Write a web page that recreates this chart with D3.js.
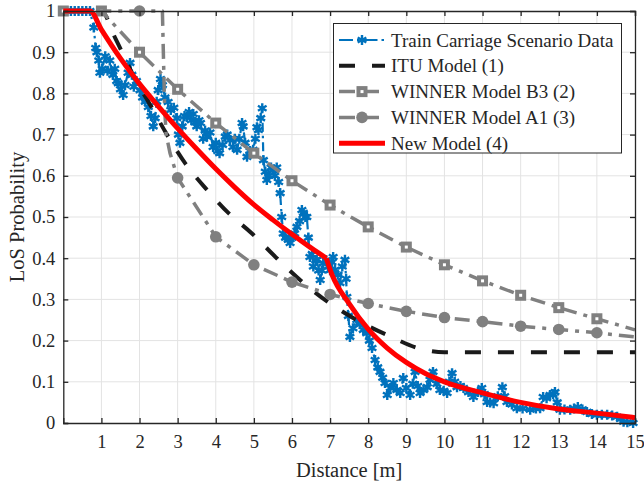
<!DOCTYPE html>
<html>
<head>
<meta charset="utf-8">
<script src="https://cdn.jsdelivr.net/npm/d3@7"></script>
<style>
  body { margin: 0; background: #fff; }
  svg text { font-family: "Liberation Serif", "Times New Roman", serif; fill: #262626; }
</style>
</head>
<body>
<div id="chart"></div>
<script>
// measured data: train carriage scenario
const measDist = [0.0,0.1,0.2,0.3,0.4,0.5,0.6,0.7,0.8,0.85,0.88,0.93,0.96,1.02,1.1,1.16,1.22,1.3,1.35,1.4,1.44,1.5,1.57,1.62,1.7,1.75,1.8,1.85,1.92,2.01,2.08,2.15,2.23,2.3,2.36,2.41,2.45,2.49,2.55,2.6,2.67,2.75,2.82,2.9,2.98,3.02,3.06,3.12,3.18,3.24,3.3,3.36,3.41,3.46,3.5,3.56,3.6,3.67,3.72,3.77,3.85,3.93,4.0,4.05,4.1,4.18,4.25,4.3,4.37,4.45,4.5,4.56,4.62,4.69,4.72,4.77,4.82,4.9,4.98,5.04,5.08,5.12,5.18,5.22,5.25,5.3,5.34,5.4,5.45,5.5,5.55,5.6,5.65,5.69,5.73,5.77,5.83,5.9,5.95,6.0,6.07,6.13,6.2,6.26,6.3,6.35,6.39,6.43,6.47,6.53,6.56,6.62,6.65,6.7,6.74,6.78,6.82,6.9,6.95,7.0,7.05,7.08,7.13,7.2,7.26,7.32,7.39,7.42,7.44,7.48,7.52,7.6,7.7,7.78,7.87,7.96,8.03,8.1,8.18,8.25,8.31,8.38,8.44,8.5,8.58,8.66,8.75,8.84,8.92,9.0,9.1,9.17,9.23,9.3,9.36,9.45,9.55,9.62,9.7,9.8,9.88,9.98,10.07,10.13,10.2,10.27,10.33,10.42,10.5,10.63,10.76,10.88,10.98,11.05,11.12,11.2,11.29,11.4,11.52,11.58,11.64,11.77,11.9,12.05,12.25,12.4,12.51,12.59,12.68,12.77,12.85,12.9,12.96,13.03,13.15,13.3,13.4,13.5,13.62,13.74,13.87,14.0,14.13,14.27,14.4,14.53,14.62,14.7,14.8,14.95];
const measProb = [1,1,1,1,1,1,1,1,0.96,0.91,0.90,0.88,0.85,0.86,0.89,0.855,0.88,0.845,0.86,0.83,0.825,0.81,0.796,0.82,0.85,0.874,0.845,0.816,0.83,0.808,0.79,0.78,0.767,0.745,0.72,0.74,0.78,0.808,0.835,0.82,0.79,0.779,0.76,0.765,0.74,0.70,0.68,0.72,0.745,0.743,0.755,0.735,0.75,0.73,0.72,0.735,0.728,0.69,0.71,0.695,0.705,0.67,0.68,0.66,0.655,0.675,0.695,0.70,0.687,0.67,0.69,0.663,0.69,0.728,0.72,0.68,0.646,0.66,0.663,0.69,0.718,0.711,0.74,0.764,0.638,0.61,0.59,0.60,0.62,0.614,0.60,0.62,0.585,0.558,0.50,0.46,0.45,0.445,0.437,0.45,0.46,0.476,0.49,0.517,0.51,0.50,0.50,0.45,0.403,0.41,0.38,0.395,0.396,0.37,0.347,0.37,0.388,0.395,0.38,0.371,0.39,0.403,0.372,0.36,0.34,0.38,0.396,0.35,0.306,0.26,0.209,0.23,0.25,0.24,0.226,0.218,0.20,0.182,0.153,0.135,0.124,0.11,0.097,0.068,0.085,0.097,0.08,0.073,0.109,0.085,0.068,0.095,0.124,0.09,0.073,0.08,0.087,0.105,0.124,0.095,0.08,0.078,0.073,0.10,0.121,0.10,0.087,0.09,0.085,0.075,0.063,0.075,0.085,0.07,0.051,0.05,0.048,0.065,0.087,0.065,0.051,0.045,0.036,0.035,0.032,0.035,0.036,0.063,0.06,0.068,0.07,0.075,0.05,0.032,0.033,0.032,0.035,0.039,0.033,0.027,0.022,0.02,0.02,0.02,0.018,0.015,0.01,0.003,0.002,0.0];

// ITU model (1)
const ituDist = [0,1,1.36,2.0,2.23,2.72,3.2,3.77,4.33,4.95,5.6,6.3,7.0,7.8,8.58,9.36,10.0,15];
const ituProb = [1,1,0.935,0.815,0.78,0.70,0.63,0.566,0.51,0.46,0.40,0.34,0.29,0.245,0.21,0.18,0.172,0.172];

// WINNER B3 (2)
const b3Dist = [0,1,2,3,4,5,6,7,8,9,10,11,12,13,14,15];
const b3Prob = [1,1,0.90,0.81,0.728,0.655,0.588,0.529,0.476,0.427,0.384,0.345,0.31,0.28,0.253,0.226];

// WINNER A1 (3)
const a1Dist = [0,1,2,2.6,2.63,2.66,2.7,2.8,3,4,5,6,7,8,9,10,11,12,13,14,15];
const a1Prob = [1,1,1,1,0.88,0.76,0.70,0.655,0.595,0.452,0.384,0.342,0.312,0.29,0.271,0.256,0.246,0.235,0.227,0.219,0.209];

// New model (4), two smooth pieces around the kink at 6.9 m
const newDistA = [0,0.7,1,1.5,2,2.5,3,3.5,4,4.5,5,5.5,6,6.5,6.9];
const newProbA = [1,1,0.955,0.885,0.823,0.768,0.715,0.665,0.617,0.572,0.53,0.493,0.458,0.425,0.40];
const newDistB = [6.9,7.05,7.5,8,8.5,9,9.5,10,11,12,13,14,15];
const newProbB = [0.40,0.36,0.29,0.228,0.182,0.147,0.12,0.10,0.073,0.05,0.034,0.024,0.013];

const xTicks = [1,2,3,4,5,6,7,8,9,10,11,12,13,14,15];
const yTicks = [0,0.1,0.2,0.3,0.4,0.5,0.6,0.7,0.8,0.9,1];
const yTickLabels = ["0","0.1","0.2","0.3","0.4","0.5","0.6","0.7","0.8","0.9","1"];
const legendLabels = ["Train Carriage Scenario Data","ITU Model (1)","WINNER Model B3 (2)","WINNER Model A1 (3)","New Model (4)"];

const width = 644, height = 485;
const margin = {left: 63.3, right: 9, top: 11, bottom: 62};

const svg = d3.select('#chart').append('svg')
  .attr('width', width).attr('height', height);

const x = d3.scaleLinear().domain([0, 15]).range([margin.left, width - margin.right]);
const y = d3.scaleLinear().domain([0, 1]).range([height - margin.bottom, margin.top]);

const zip = (xs, ys) => xs.map((d, i) => [d, ys[i]]);
const line = d3.line().x(d => x(d[0])).y(d => y(d[1]));
const smooth = d3.line().x(d => x(d[0])).y(d => y(d[1])).curve(d3.curveMonotoneX);

// grid
const grid = svg.append('g').attr('stroke', '#e3e3e3').attr('stroke-width', 1);
grid.selectAll('.gx').data(xTicks.slice(0, -1)).enter().append('line')
  .attr('x1', d => x(d)).attr('x2', d => x(d)).attr('y1', y(0)).attr('y2', y(1));
grid.selectAll('.gy').data(yTicks.slice(1, -1)).enter().append('line')
  .attr('x1', x(0)).attr('x2', x(15)).attr('y1', d => y(d)).attr('y2', d => y(d));

const plot = svg.append('g');

// styles per series
const styles = [
  {color: '#0072BD', width: 2.2, dash: '9,4,2.5,4'},
  {color: '#1a1a1a', width: 4, dash: '16,17'},
  {color: '#808080', width: 3.5, dash: '15,7,4,7'},
  {color: '#808080', width: 3.5, dash: '15,7,4,7'},
  {color: '#FF0000', width: 5, dash: null}
];

function drawLine(data, s, gen) {
  plot.append('path').datum(data)
    .attr('fill', 'none').attr('stroke', s.color)
    .attr('stroke-width', s.width)
    .attr('stroke-dasharray', s.dash)
    .attr('stroke-linejoin', 'round')
    .attr('d', gen || line);
}

const asterisk = d3.symbol().type(d3.symbolAsterisk).size(70);
function star(g, cx, cy) {
  g.append('path').attr('d', asterisk)
    .attr('transform', `translate(${cx},${cy})`)
    .attr('fill', 'none').attr('stroke', '#0072BD').attr('stroke-width', 2.4);
}
function square(g, cx, cy) {
  g.append('rect').attr('x', cx - 5.5).attr('y', cy - 5.5).attr('width', 11).attr('height', 11)
    .attr('fill', '#808080');
  g.append('rect').attr('x', cx - 1.5).attr('y', cy - 1.5).attr('width', 3).attr('height', 3)
    .attr('fill', '#fff');
}
function circle(g, cx, cy) {
  g.append('circle').attr('cx', cx).attr('cy', cy).attr('r', 5.8).attr('fill', '#808080');
}

// measured data
const meas = zip(measDist, measProb);
drawLine(meas, styles[0]);
meas.forEach(d => star(plot, x(d[0]), y(d[1])));

// ITU
drawLine(zip(ituDist, ituProb), styles[1], smooth);

// WINNER B3
const b3 = zip(b3Dist, b3Prob);
drawLine(b3, styles[2]);
b3.filter(d => d[0] < 15).forEach(d => square(plot, x(d[0]), y(d[1])));

// WINNER A1
const a1 = zip(a1Dist, a1Prob);
drawLine(a1, styles[3]);
a1.filter(d => Number.isInteger(d[0]) && d[0] >= 2 && d[0] < 15)
  .forEach(d => circle(plot, x(d[0]), y(d[1])));

// New model
drawLine(zip(newDistA, newProbA), styles[4], smooth);
drawLine(zip(newDistB, newProbB), styles[4], smooth);

// axes box with inward ticks
const axisColor = '#262626';
const tickLen = 5;
const xAxis = d3.axisBottom(x).tickValues(xTicks).tickSize(-tickLen).tickPadding(12).tickFormat(d3.format('d'));
const yAxis = d3.axisLeft(y).tickValues(yTicks).tickSize(-tickLen).tickPadding(8).tickFormat((d, i) => yTickLabels[i]);
const xTop = d3.axisTop(x).tickValues(xTicks).tickSize(-tickLen).tickFormat('');
const yRight = d3.axisRight(y).tickValues(yTicks).tickSize(-tickLen).tickFormat('');

const axes = [
  svg.append('g').attr('transform', `translate(0,${y(0)})`).call(xAxis),
  svg.append('g').attr('transform', `translate(${x(0)},0)`).call(yAxis),
  svg.append('g').attr('transform', `translate(0,${y(1)})`).call(xTop),
  svg.append('g').attr('transform', `translate(${x(15)},0)`).call(yRight)
];
axes.forEach(g => {
  g.select('.domain').attr('stroke', axisColor).attr('stroke-width', 1.3);
  g.selectAll('.tick line').attr('stroke', axisColor).attr('stroke-width', 1.3);
  g.selectAll('.tick text').attr('font-family', '"Liberation Serif", serif')
    .attr('font-size', 18.5).attr('fill', axisColor);
});

// axis labels
svg.append('text').attr('x', (x(0) + x(15)) / 2).attr('y', 477)
  .attr('text-anchor', 'middle').attr('font-size', 20.5).text('Distance [m]');
svg.append('text')
  .attr('transform', `translate(24,${(y(0) + y(1)) / 2}) rotate(-90)`)
  .attr('text-anchor', 'middle').attr('font-size', 20.5).text('LoS Probability');

// legend
const lg = svg.append('g');
lg.append('rect').attr('x', 333.5).attr('y', 23.5).attr('width', 288).attr('height', 129.5)
  .attr('fill', '#fff').attr('stroke', axisColor).attr('stroke-width', 1);
legendLabels.forEach((lab, i) => {
  const cy = 40 + i * 25.8;
  const s = styles[i];
  lg.append('line').attr('x1', 339).attr('x2', 385).attr('y1', cy).attr('y2', cy)
    .attr('stroke', s.color).attr('stroke-width', s.width)
    .attr('stroke-dasharray', i === 1 ? '16,17' : (i === 0 ? '14,4,2.5,4' : (i === 4 ? null : '16,8')));
  if (i === 0) star(lg, 362, cy);
  if (i === 2) square(lg, 362, cy);
  if (i === 3) circle(lg, 362, cy);
  lg.append('text').attr('x', 391).attr('y', cy + 6.5).attr('font-size', 19).text(lab);
});
</script>
</body>
</html>
